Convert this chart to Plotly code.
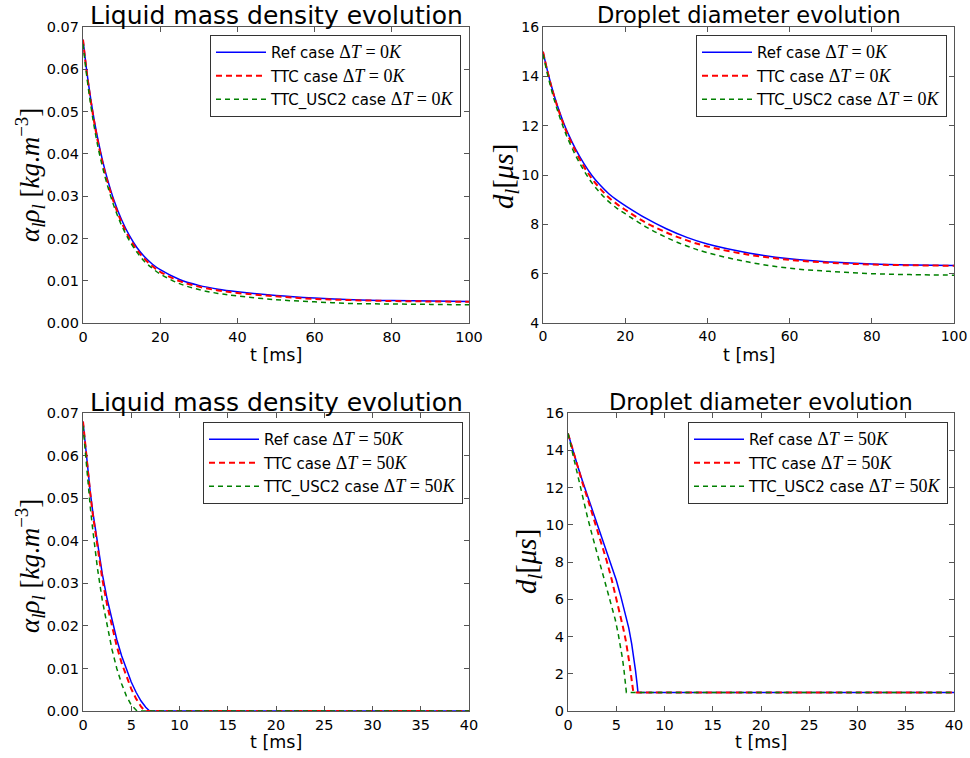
import plotly.graph_objects as go

W, H = 970, 758

# ---------------- data ----------------
# Top row: dT = 0 K, t in ms
t_dt0 = [0, 1, 2, 3, 4, 5, 6, 8, 10, 12, 14, 16, 18, 20, 25, 30, 35, 40, 50, 60, 70, 80, 90, 100]
rho_ref_dt0 = [0.067, 0.0594, 0.0530, 0.0475, 0.0428, 0.0387, 0.0351, 0.0291, 0.0244, 0.0207, 0.0178,
               0.0156, 0.0139, 0.0126, 0.0103, 0.0089, 0.0080, 0.0074, 0.0065, 0.0059, 0.0055, 0.0053,
               0.0052, 0.0051]
rho_ttc_dt0 = [0.067, 0.0591, 0.0526, 0.0470, 0.0422, 0.0381, 0.0345, 0.0285, 0.0238, 0.0201, 0.0173,
               0.0151, 0.0134, 0.0121, 0.0099, 0.0086, 0.0077, 0.0071, 0.0063, 0.0057, 0.0054, 0.0052,
               0.0051, 0.0050]
rho_usc2_dt0 = [0.066, 0.0582, 0.0516, 0.0459, 0.0411, 0.0371, 0.0336, 0.0277, 0.0231, 0.0195, 0.0167,
                0.0145, 0.0129, 0.0116, 0.0093, 0.0079, 0.0070, 0.0064, 0.0055, 0.0050, 0.0046, 0.0045,
                0.0044, 0.0043]
d_ref_dt0 = [15.0, 14.28, 13.64, 13.07, 12.57, 12.12, 11.72, 11.03, 10.45, 9.96, 9.57, 9.24, 8.98, 8.76,
             8.25, 7.82, 7.47, 7.2, 6.84, 6.6, 6.47, 6.39, 6.35, 6.33]
d_ttc_dt0 = [15.0, 14.26, 13.61, 13.03, 12.52, 12.05, 11.64, 10.94, 10.33, 9.83, 9.43, 9.09, 8.82, 8.59,
             8.07, 7.67, 7.35, 7.1, 6.77, 6.56, 6.44, 6.37, 6.34, 6.32]
d_usc2_dt0 = [14.9, 14.15, 13.49, 12.9, 12.38, 11.91, 11.49, 10.77, 10.17, 9.66, 9.26, 8.92, 8.65, 8.43,
              7.9, 7.47, 7.12, 6.85, 6.47, 6.22, 6.09, 6.0, 5.96, 5.94]

# Bottom row: dT = 50 K
t_rho_ref_dt50 = [0, 0.25, 0.5, 0.75, 1.0, 1.5, 2.0, 2.5, 3.0, 3.5, 4.0, 4.5, 5.0, 5.5, 6.0, 6.5, 6.9, 40]
rho_ref_dt50 = [0.068, 0.0620, 0.0565, 0.0515, 0.0470, 0.0390, 0.0322, 0.0263, 0.0212, 0.0168, 0.0130,
                0.0097, 0.0068, 0.0044, 0.0024, 0.0009, 0.0, 0.0]
t_rho_ttc_dt50 = [0, 0.25, 0.5, 0.75, 1.0, 1.5, 2.0, 2.5, 3.0, 3.5, 4.0, 4.5, 5.0, 5.5, 6.0, 6.4, 40]
rho_ttc_dt50 = [0.068, 0.0619, 0.0563, 0.0511, 0.0464, 0.0381, 0.0310, 0.0249, 0.0197, 0.0152, 0.0113,
                0.0080, 0.0052, 0.0029, 0.0011, 0.0, 0.0]
t_rho_usc2_dt50 = [0, 0.25, 0.5, 0.75, 1.0, 1.5, 2.0, 2.5, 3.0, 3.5, 4.0, 4.5, 5.0, 5.6, 40]
rho_usc2_dt50 = [0.067, 0.0600, 0.0537, 0.0480, 0.0428, 0.0335, 0.0260, 0.0200, 0.0145, 0.0100, 0.0064,
                 0.0035, 0.0014, 0.0, 0.0]

t_d_ref_dt50 = [0, 0.5, 1.0, 1.5, 2.0, 2.5, 3.0, 3.5, 4.0, 4.5, 5.0, 5.5, 6.0, 6.3, 6.6, 6.8, 7.0, 7.15,
                7.25, 40]
d_ref_dt50 = [14.9, 14.0, 13.15, 12.35, 11.6, 10.82, 10.05, 9.33, 8.6, 7.85, 7.03, 6.1, 5.15, 4.45, 3.6,
              2.95, 2.15, 1.5, 1.0, 1.0]
t_d_ttc_dt50 = [0, 0.5, 1.0, 1.5, 2.0, 2.5, 3.0, 3.5, 4.0, 4.5, 5.0, 5.4, 5.7, 6.0, 6.2, 6.4, 6.55, 6.7,
                6.77, 40]
d_ttc_dt50 = [14.9, 14.0, 13.12, 12.25, 11.45, 10.62, 9.75, 8.9, 8.08, 7.12, 6.08, 5.2, 4.5, 3.75, 3.15,
              2.45, 1.85, 1.25, 1.0, 1.0]
t_d_usc2_dt50 = [0, 0.5, 1.0, 1.5, 2.0, 2.5, 3.0, 3.5, 4.0, 4.5, 4.9, 5.2, 5.45, 5.65, 5.8, 5.93, 6.05, 40]
d_usc2_dt50 = [14.9, 13.75, 12.6, 11.5, 10.45, 9.45, 8.5, 7.6, 6.72, 5.75, 4.9, 4.15, 3.45, 2.8, 2.2, 1.6,
               1.0, 1.0]

case_names = ["Ref case", "TTC case", "TTC_USC2 case"]
dT_labels = ["0", "50"]
titles = ["Liquid mass density evolution", "Droplet diameter evolution",
          "Liquid mass density evolution", "Droplet diameter evolution"]
x_ranges = [[0, 100], [0, 100], [0, 40], [0, 40]]
y_ranges = [[0, 0.07], [4, 16], [0, 0.07], [0, 16]]
x_dticks = [20, 20, 5, 5]
y_dticks = [0.01, 2, 0.01, 2]
y_formats = [".2f", "d", ".2f", "d"]

# ---------------- styling ----------------
colors = ["#0000ff", "#ff0000", "#008000"]
widths = [1.5, 2.0, 1.5]
dashes = ["solid", "6px,4px", "5px,4px"]
SERIF = "Liberation Serif"
SANS = "DejaVu Sans"

# pixel boxes of the four panels: (left, right, top, bottom)
boxes = [(83, 469, 27, 323), (543, 954, 27, 323), (83, 469, 413, 711), (568, 954, 413, 711)]
legend_pos = [(210, 35), (696, 35), (203, 422), (688, 422)]
ylabel_pos = [(30, 175), (505, 177), (30, 566), (528, 562)]
ylabel_sizes = [27, 29, 27, 29]
title_y = [15, 15, 402, 402]
title_sizes = [25, 22.5, 25, 22.5]
tick_sizes = [14.5, 14, 14.5, 14.5]
xlabel_y = [355, 355, 742, 742]


def px(x):
    return x / W


def py(y):
    return 1 - y / H


def legend_text(name, dt):
    return (f"{name} <span style='font-family:{SERIF};font-size:18px'>Δ<i>T</i> = "
            f"{dt}<i>K</i></span>")


series = [
    [(t_dt0, rho_ref_dt0), (t_dt0, rho_ttc_dt0), (t_dt0, rho_usc2_dt0)],
    [(t_dt0, d_ref_dt0), (t_dt0, d_ttc_dt0), (t_dt0, d_usc2_dt0)],
    [(t_rho_ref_dt50, rho_ref_dt50), (t_rho_ttc_dt50, rho_ttc_dt50), (t_rho_usc2_dt50, rho_usc2_dt50)],
    [(t_d_ref_dt50, d_ref_dt50), (t_d_ttc_dt50, d_ttc_dt50), (t_d_usc2_dt50, d_usc2_dt50)],
]

fig = go.Figure()
for p in range(4):
    suffix = "" if p == 0 else str(p + 1)
    dt = dT_labels[0] if p < 2 else dT_labels[1]
    legend_id = "legend" + suffix
    for k in range(3):
        xs, ys = series[p][k]
        fig.add_trace(go.Scatter(
            x=xs, y=ys, mode="lines",
            line=dict(color=colors[k], width=widths[k], dash=dashes[k],
                      shape="spline" if p < 2 else "linear", smoothing=1.0),
            name=legend_text(case_names[k], dt),
            xaxis="x" + suffix, yaxis="y" + suffix,
            legend=legend_id, showlegend=True, legendgroup=f"g{p}{k}",
        ))

layout = dict(
    width=W, height=H,
    margin=dict(l=0, r=0, t=0, b=0),
    paper_bgcolor="white", plot_bgcolor="white",
    font=dict(family=SANS, size=15, color="black"),
    showlegend=True,
)

axis_common = dict(
    showgrid=False, zeroline=False, showline=True, linecolor="#555555", linewidth=1.2,
    mirror="ticks", ticks="inside", ticklen=5, tickcolor="#555555", tickwidth=1,
    automargin=False, layer="below traces",
)

annotations = []
ylabels = [
    "<i>α<sub>l</sub>ρ<sub>l</sub></i> [<i>kg</i>.<i>m</i><sup>−3</sup>]",
    "<i>d<sub>l</sub></i>[<i>μs</i>]",
    "<i>α<sub>l</sub>ρ<sub>l</sub></i> [<i>kg</i>.<i>m</i><sup>−3</sup>]",
    "<i>d<sub>l</sub></i>[<i>μs</i>]",
]
for p in range(4):
    suffix = "" if p == 0 else str(p + 1)
    l, r, t, b = boxes[p]
    tf = dict(family=SANS, size=tick_sizes[p], color="black")
    layout["xaxis" + suffix] = dict(
        axis_common, domain=[px(l), px(r)], range=x_ranges[p], dtick=x_dticks[p], tick0=0,
        anchor="y" + suffix, tickfont=tf,
    )
    layout["yaxis" + suffix] = dict(
        axis_common, domain=[py(b), py(t)], range=y_ranges[p], dtick=y_dticks[p], tick0=0,
        tickformat=y_formats[p], anchor="x" + suffix, tickfont=tf,
    )
    lx, ly = legend_pos[p]
    layout["legend" + suffix] = dict(
        x=px(lx), y=py(ly), xanchor="left", yanchor="top", xref="paper", yref="paper",
        bgcolor="white", bordercolor="#333333", borderwidth=1,
        font=dict(family=SANS, size=15, color="black"), itemwidth=50,
        traceorder="grouped", tracegroupgap=1,
    )
    annotations.append(dict(
        text=titles[p], x=px((l + r) / 2), y=py(title_y[p]), xref="paper", yref="paper",
        xanchor="center", yanchor="middle", showarrow=False,
        font=dict(family=SANS, size=title_sizes[p], color="black"),
    ))
    annotations.append(dict(
        text="t [ms]", x=px((l + r) / 2), y=py(xlabel_y[p]), xref="paper", yref="paper",
        xanchor="center", yanchor="middle", showarrow=False,
        font=dict(family=SANS, size=17.5, color="black"),
    ))
    yx, yy = ylabel_pos[p]
    annotations.append(dict(
        text=ylabels[p], x=px(yx), y=py(yy), xref="paper", yref="paper",
        xanchor="center", yanchor="middle", showarrow=False, textangle=-90,
        font=dict(family=SERIF, size=ylabel_sizes[p], color="black"),
    ))

layout["annotations"] = annotations
fig.update_layout(**layout)
fig.write_html("out.html", config={"displayModeBar": False},
               post_script="document.body.style.margin='0px';document.body.style.padding='0px';")
